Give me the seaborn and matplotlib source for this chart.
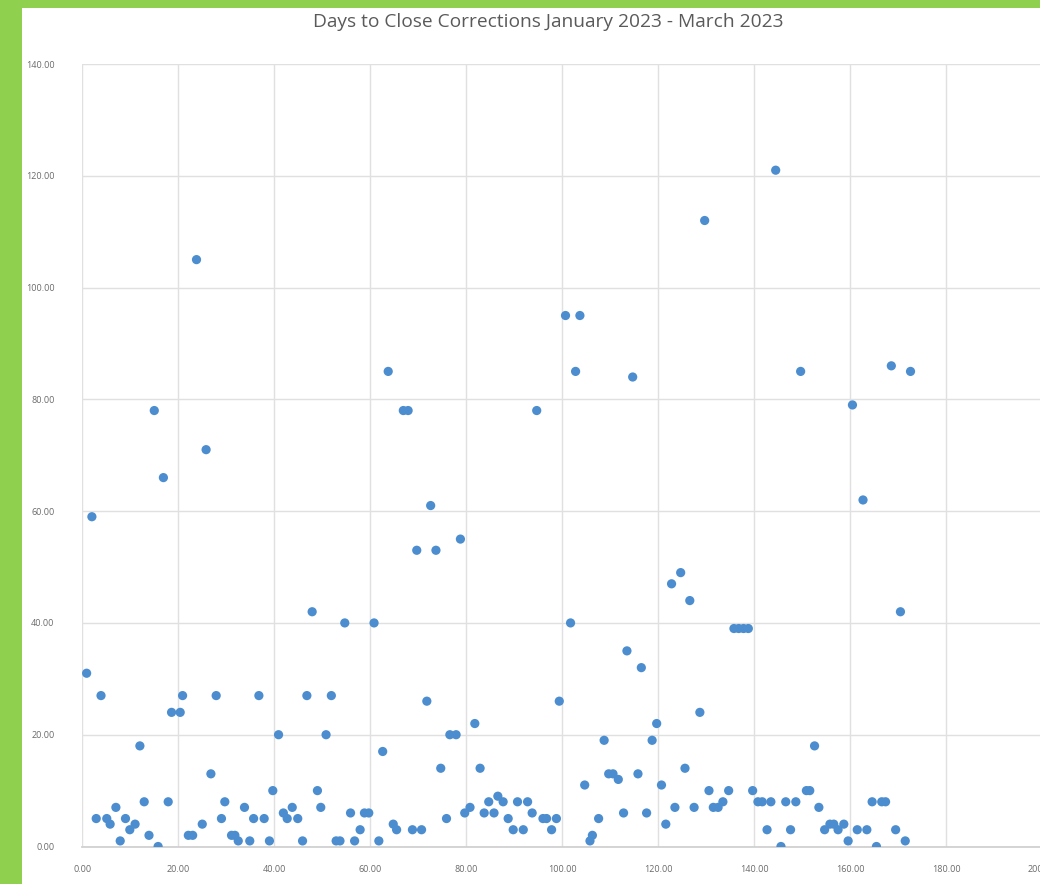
import matplotlib
matplotlib.use("Agg")
import matplotlib.pyplot as plt
import matplotlib.patches as mpatches
from matplotlib.ticker import FormatStrFormatter
import seaborn as sns
import pandas as pd

# Item index (x) and days to close (y)
item = [0.9, 2.0, 2.9, 3.9, 5.1, 5.8, 7.0, 7.9, 9.0, 9.9,
        11.0, 12.0, 12.9, 13.9, 15.0, 15.8, 16.9, 17.9, 18.6, 20.4,
        20.9, 22.1, 23.0, 23.8, 25.0, 25.8, 26.8, 27.9, 29.0, 29.7,
        31.1, 31.8, 32.5, 33.8, 34.9, 35.7, 36.8, 37.9, 39.0, 39.7,
        40.9, 41.9, 42.7, 43.75, 44.9, 45.9, 46.8, 47.9, 49.0, 49.7,
        50.8, 51.9, 52.9, 53.7, 54.7, 55.9, 56.75, 57.9, 58.8, 59.7,
        60.8, 61.8, 62.6, 63.75, 64.8, 65.5, 66.9, 67.9, 68.8, 69.7,
        70.7, 71.8, 72.6, 73.7, 74.7, 75.9, 76.6, 77.9, 78.8, 79.7,
        80.8, 81.8, 82.9, 83.75, 84.7, 85.8, 86.6, 87.7, 88.75, 89.8,
        90.7, 91.9, 92.8, 93.75, 94.7, 96.0, 96.75, 97.8, 98.8, 99.4,
        100.7, 101.75, 102.8, 103.7, 104.7, 105.8, 106.3, 107.6, 108.75, 109.7,
        110.6, 111.7, 112.8, 113.5, 114.7, 115.8, 116.5, 117.6, 118.75, 119.7,
        120.7, 121.6, 122.8, 123.5, 124.7, 125.6, 126.6, 127.5, 128.7, 129.7,
        130.6, 131.5, 132.5, 133.5, 134.7, 135.8, 136.8, 137.8, 138.8, 139.7,
        140.8, 141.7, 142.7, 143.5, 144.5, 145.6, 146.6, 147.6, 148.7, 149.7,
        150.9, 151.6, 152.6, 153.5, 154.7, 155.8, 156.6, 157.5, 158.7, 159.6,
        160.5, 161.5, 162.7, 163.5, 164.6, 165.5, 166.6, 167.4, 168.6, 169.5,
        170.5, 171.5, 172.6]
days = [31, 59, 5, 27, 5, 4, 7, 1, 5, 3,
        4, 18, 8, 2, 78, 0, 66, 8, 24, 24,
        27, 2, 2, 105, 4, 71, 13, 27, 5, 8,
        2, 2, 1, 7, 1, 5, 27, 5, 1, 10,
        20, 6, 5, 7, 5, 1, 27, 42, 10, 7,
        20, 27, 1, 1, 40, 6, 1, 3, 6, 6,
        40, 1, 17, 85, 4, 3, 78, 78, 3, 53,
        3, 26, 61, 53, 14, 5, 20, 20, 55, 6,
        7, 22, 14, 6, 8, 6, 9, 8, 5, 3,
        8, 3, 8, 6, 78, 5, 5, 3, 5, 26,
        95, 40, 85, 95, 11, 1, 2, 5, 19, 13,
        13, 12, 6, 35, 84, 13, 32, 6, 19, 22,
        11, 4, 47, 7, 49, 14, 44, 7, 24, 112,
        10, 7, 7, 8, 10, 39, 39, 39, 39, 10,
        8, 8, 3, 8, 121, 0, 8, 3, 8, 85,
        10, 10, 18, 7, 3, 4, 4, 3, 4, 1,
        79, 3, 62, 3, 8, 0, 8, 8, 86, 3,
        42, 1, 85]

x_ticks = [0, 20, 40, 60, 80, 100, 120, 140, 160, 180, 200]
y_ticks = [0, 20, 40, 60, 80, 100, 120, 140]
title = "Days to Close Corrections January 2023 - March 2023"

df = pd.DataFrame({"item": item, "days": days})

sns.set_theme(style="white")
plt.rcParams["font.family"] = ["Open Sans", "DejaVu Sans"]

W, H = 1040, 884
fig = plt.figure(figsize=(W / 100, H / 100), dpi=100, facecolor="#8FD14F")
# white card on the green frame
card = mpatches.Rectangle((22 / W, 0), 1 - 22 / W, 1 - 8 / H,
                          transform=fig.transFigure, facecolor="white",
                          edgecolor="none", zorder=-10)
fig.add_artist(card)

left = 82.3 / W
right = 1042 / W
bottom = (H - 846.5) / H
top = (H - 64) / H
ax = fig.add_axes([left, bottom, right - left, top - bottom])
ax.set_zorder(1)
ax.set_facecolor("white")

sns.scatterplot(data=df, x="item", y="days", ax=ax, color="#4C8DCF",
                s=44, edgecolor="none", linewidth=0, zorder=3, legend=False)

ax.set_xlim(0, 200)
ax.set_ylim(0, 140)
ax.set_xticks(x_ticks)
ax.set_yticks(y_ticks)
ax.xaxis.set_major_formatter(FormatStrFormatter("%.2f"))
ax.yaxis.set_major_formatter(FormatStrFormatter("%.2f"))
ax.grid(True, color="#E0E0E0", linewidth=1.0)
ax.set_axisbelow(True)
for side in ["top", "right", "left"]:
    ax.spines[side].set_visible(False)
ax.spines["bottom"].set_color("#CFCFCF")
ax.tick_params(axis="both", length=0, labelsize=6.5, colors="#6A6A6A")
ax.tick_params(axis="x", pad=13)
ax.tick_params(axis="y", pad=20)
ax.set_xlabel("")
ax.set_ylabel("")

fig.text(548 / W, 1 - 22 / H, title, ha="center", va="center",
         fontsize=13.8, color="#5A5A5A", zorder=5)

fig.savefig("out.png", dpi=100, facecolor=fig.get_facecolor())
